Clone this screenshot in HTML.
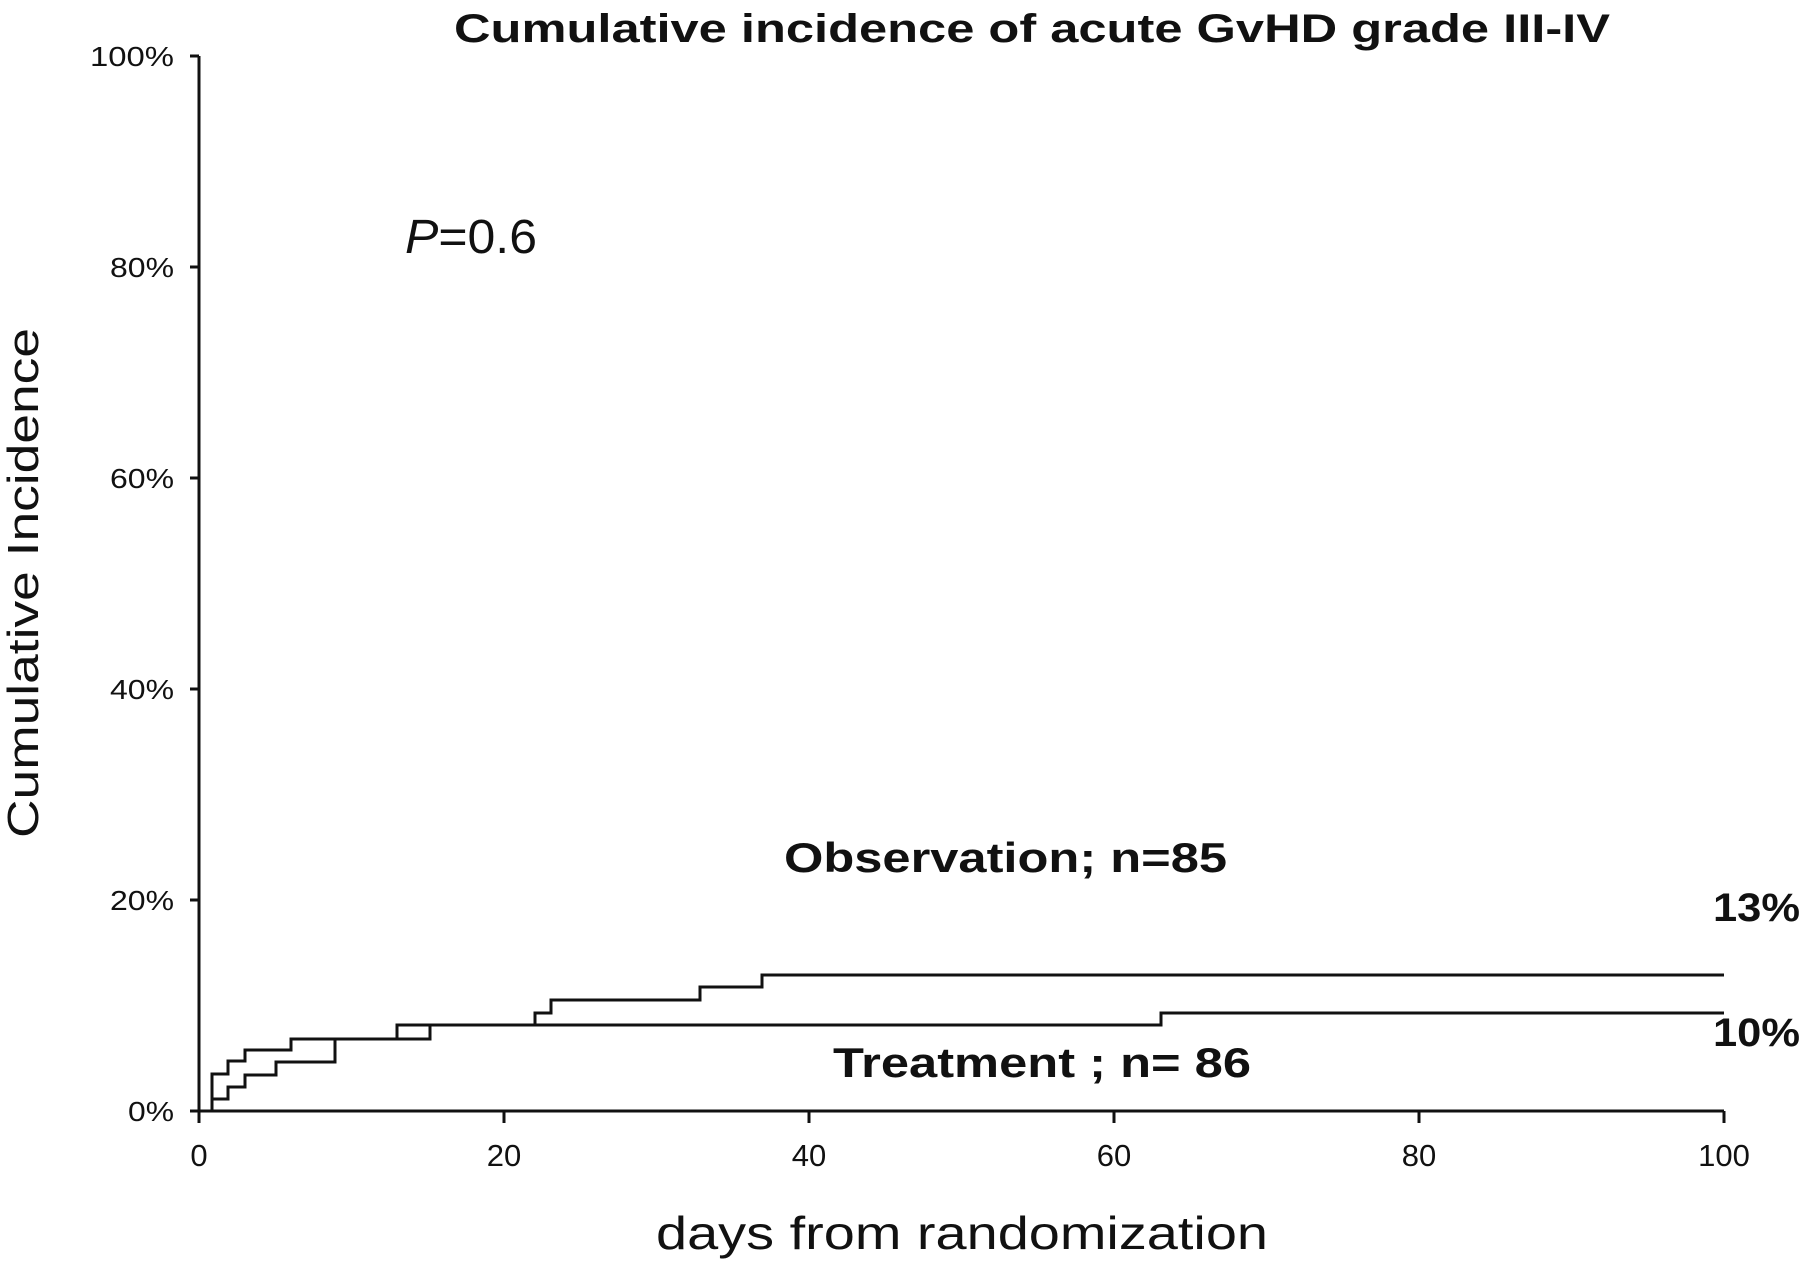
<!DOCTYPE html>
<html><head><meta charset="utf-8"><style>
html,body{margin:0;padding:0;background:#fff;}
svg{display:block;}
text{font-family:"Liberation Sans",sans-serif;fill:#111;}
</style></head><body>
<svg width="1800" height="1268" viewBox="0 0 1800 1268" xmlns="http://www.w3.org/2000/svg">
<g stroke="#111" stroke-width="3" fill="none">
<line x1="199" y1="56" x2="199" y2="1112"/>
<line x1="199" y1="1111" x2="1724" y2="1111"/>
<line x1="190" y1="56" x2="199" y2="56"/>
<line x1="190" y1="267" x2="199" y2="267"/>
<line x1="190" y1="478" x2="199" y2="478"/>
<line x1="190" y1="689" x2="199" y2="689"/>
<line x1="190" y1="900" x2="199" y2="900"/>
<line x1="190" y1="1111" x2="199" y2="1111"/>
<line x1="199" y1="1111" x2="199" y2="1123"/>
<line x1="504" y1="1111" x2="504" y2="1123"/>
<line x1="809" y1="1111" x2="809" y2="1123"/>
<line x1="1114" y1="1111" x2="1114" y2="1123"/>
<line x1="1419" y1="1111" x2="1419" y2="1123"/>
<line x1="1724" y1="1111" x2="1724" y2="1123"/>
<polyline points="199,1111 212,1111 212,1074 228,1074 228,1061 245,1061 245,1050 291,1050 291,1039 397,1039 397,1025 535,1025 535,1013 551,1013 551,1000 700,1000 700,987 762,987 762,975 1724,975"/>
<polyline points="212,1111 212,1099 228,1099 228,1087 245,1087 245,1075 276,1075 276,1062 335,1062 335,1039 430,1039 430,1025 1161,1025 1161,1013 1724,1013"/>
</g>
<g font-size="28" text-anchor="end">
<text x="174" y="66" textLength="84" lengthAdjust="spacingAndGlyphs">100%</text>
<text x="174" y="277" textLength="64" lengthAdjust="spacingAndGlyphs">80%</text>
<text x="174" y="488" textLength="64" lengthAdjust="spacingAndGlyphs">60%</text>
<text x="174" y="699" textLength="64" lengthAdjust="spacingAndGlyphs">40%</text>
<text x="174" y="910" textLength="64" lengthAdjust="spacingAndGlyphs">20%</text>
<text x="174" y="1121" textLength="46" lengthAdjust="spacingAndGlyphs">0%</text>
</g>
<g font-size="31" text-anchor="middle">
<text x="199" y="1166">0</text>
<text x="504" y="1166">20</text>
<text x="809" y="1166">40</text>
<text x="1114" y="1166">60</text>
<text x="1419" y="1166">80</text>
<text x="1724" y="1166">100</text>
</g>
<text x="1032" y="42" font-size="40" font-weight="bold" text-anchor="middle" textLength="1156" lengthAdjust="spacingAndGlyphs">Cumulative incidence of acute GvHD grade III-IV</text>
<text transform="translate(38,583) rotate(-90)" font-size="44" text-anchor="middle" textLength="510" lengthAdjust="spacingAndGlyphs">Cumulative Incidence</text>
<text x="962" y="1249" font-size="46" text-anchor="middle" textLength="612" lengthAdjust="spacingAndGlyphs">days from randomization</text>
<text x="405" y="253" font-size="48" textLength="132" lengthAdjust="spacingAndGlyphs"><tspan font-style="italic">P</tspan>=0.6</text>
<text x="784" y="872" font-size="42" font-weight="bold" textLength="443" lengthAdjust="spacingAndGlyphs">Observation; n=85</text>
<text x="833" y="1077" font-size="42" font-weight="bold" textLength="418" lengthAdjust="spacingAndGlyphs">Treatment ; n= 86</text>
<text x="1713" y="921" font-size="40" font-weight="bold" textLength="87" lengthAdjust="spacingAndGlyphs">13%</text>
<text x="1713" y="1046" font-size="40" font-weight="bold" textLength="87" lengthAdjust="spacingAndGlyphs">10%</text>
</svg>
</body></html>
